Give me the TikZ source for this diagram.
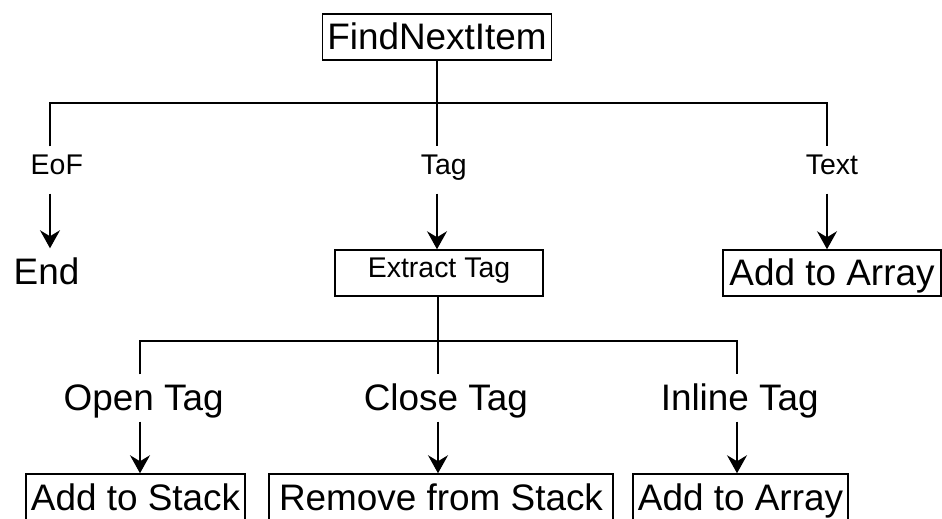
\documentclass[tikz,border=0pt]{standalone}
\usepackage{fontspec}
\setmainfont{Liberation Sans}
\usetikzlibrary{arrows.meta}
\newcommand{\bigtxt}{\fontsize{21}{25}\selectfont}
\newcommand{\smalltxt}{\fontsize{16.2}{19}\selectfont}
\tikzset{
  smalltext/.style={font=\smalltxt, inner sep=0pt, text height=0.56cm, text depth=0.36cm},
  bigtext/.style={font=\bigtxt, inner sep=0pt, text height=0.72cm, text depth=0.2cm},
  boxed/.style={draw, line width=0.85pt},
  arr/.style={-{Stealth[length=0.36cm, width=0.4cm, inset=0.12cm]}}
}
\begin{document}
\begin{tikzpicture}[x=0.02cm, y=-0.02cm, line width=0.85pt]
  \useasboundingbox (0,0) rectangle (942,519);
  % top level
  \node[bigtext, boxed, minimum width=4.58cm, anchor=base] (find) at (437,50) {FindNextItem};
  \node[smalltext, anchor=base west] (eof) at (30,175) {EoF};
  \node[smalltext, anchor=base west] (tag) at (420,175) {Tag};
  \node[smalltext, anchor=base west] (txt) at (805,175) {Text};
  \node[bigtext, anchor=base west] (endn) at (13,285) {End};
  \node[smalltext, boxed, minimum width=4.16cm, anchor=base] (ext) at (439,278) {Extract Tag};
  \node[bigtext, boxed, minimum width=4.36cm, anchor=base] (array1) at (832,286) {Add to Array};
  \coordinate (b1) at (50,103);
  \coordinate (b2) at (437,103);
  \coordinate (b3) at (827,103);
  \draw (find.south) -- (b2) -- (b2 |- tag.north);
  \draw (b1 |- eof.north) -- (b1) -- (b3) -- (b3 |- txt.north);
  \draw[arr] (b1 |- eof.south) -- (b1 |- endn.north);
  \draw[arr] (b2 |- tag.south) -- (b2 |- ext.north);
  \draw[arr] (b3 |- txt.south) -- (b3 |- array1.north);
  % tag kinds
  \node[bigtext, anchor=base west] (open) at (63,411) {Open Tag};
  \node[bigtext, anchor=base west] (close) at (363,411) {Close Tag};
  \node[bigtext, anchor=base west] (inl) at (660,411) {Inline Tag};
  \node[bigtext, boxed, minimum width=4.38cm, anchor=base] (stack) at (135.5,510) {Add to Stack};
  \node[bigtext, boxed, minimum width=6.88cm, anchor=base] (remove) at (441,510) {Remove from Stack};
  \node[bigtext, boxed, minimum width=4.31cm, anchor=base] (array2) at (740.5,510) {Add to Array};
  \coordinate (b4) at (140,341);
  \coordinate (b5) at (438,341);
  \coordinate (b6) at (737,341);
  \draw (b5 |- ext.south) -- (b5) -- (b5 |- close.north);
  \draw (b4 |- open.north) -- (b4) -- (b6) -- (b6 |- inl.north);
  \draw[arr] (b4 |- open.south) -- (b4 |- stack.north);
  \draw[arr] (b5 |- close.south) -- (b5 |- remove.north);
  \draw[arr] (b6 |- inl.south) -- (b6 |- array2.north);
\end{tikzpicture}
\end{document}
